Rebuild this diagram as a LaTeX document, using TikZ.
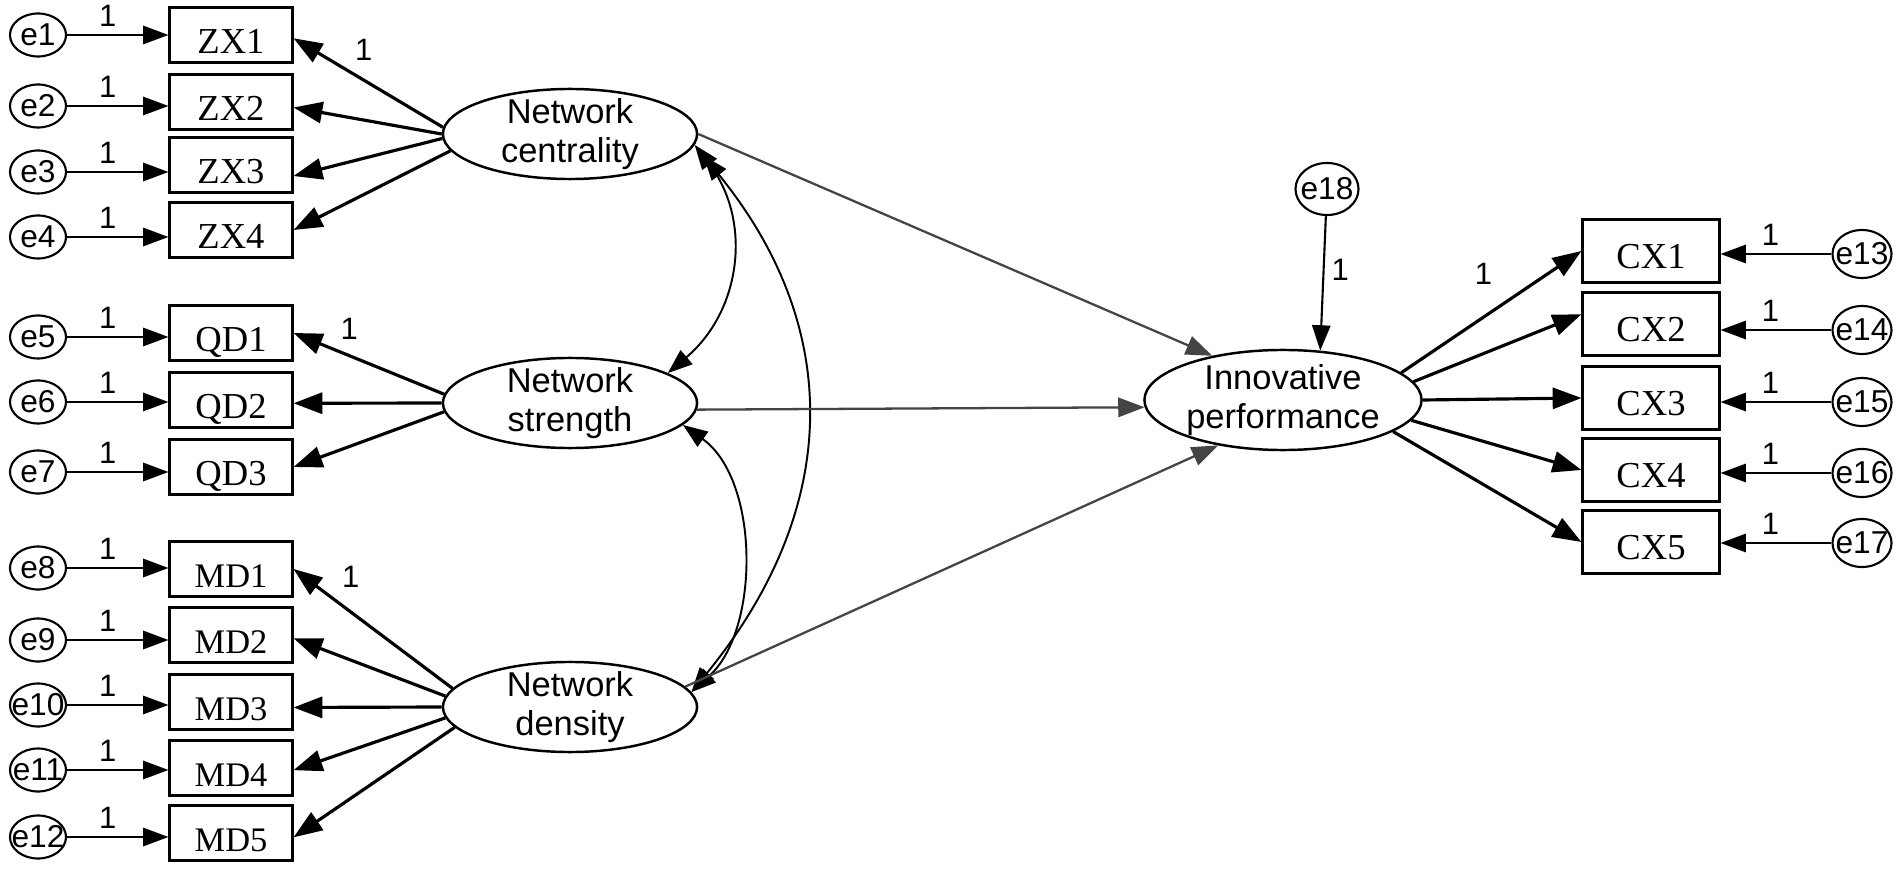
\documentclass[tikz,border=0pt]{standalone}
\usepackage{fontspec}
\setmainfont{Liberation Serif}
\setsansfont{Liberation Sans}
\usepackage{tikz}
\usetikzlibrary{shapes.geometric, arrows.meta}
\definecolor{pathgray}{HTML}{444444}

\newcommand{\etxt}[1]{\makebox[0pt]{#1}}

\tikzset{
  obsbox/.style={draw, line width=0.85pt, minimum width=1.22cm, minimum height=0.55cm, inner sep=0pt, text height=0.378cm, text depth=0pt, font=\fontsize{10.4}{10.4}\selectfont},
  mdbox/.style={obsbox, font=\fontsize{9.8}{9.8}\selectfont, text height=0.37cm},
  cxbox/.style={obsbox, minimum width=1.36cm, minimum height=0.62cm, text height=0.34cm},
  errnode/.style={ellipse, draw, line width=0.6pt, minimum width=0.56cm, minimum height=0.43cm, inner sep=0pt, font=\fontsize{9}{9}\selectfont\sffamily},
  errright/.style={errnode, minimum width=0.59cm, minimum height=0.48cm},
  latent/.style={ellipse, draw, line width=0.7pt, minimum width=2.54cm, minimum height=0.9cm, inner xsep=0pt, inner ysep=-2pt, align=center, font=\fontsize{9.8}{11}\selectfont\sffamily},
  errarrow/.style={-{Triangle[length=7.2pt, width=5.2pt]}, line width=0.6pt},
  loadarrow/.style={-{Triangle[length=8.2pt, width=6pt]}, line width=0.9pt},
  patharrow/.style={-{Triangle[length=7.5pt, width=5.5pt]}, pathgray, line width=0.65pt},
  covarrow/.style={{Triangle[length=7pt, width=5.2pt]}-{Triangle[length=7pt, width=5.2pt]}, line width=0.55pt},
  wlabel/.style={font=\fontsize{8.8}{8.8}\selectfont\sffamily, inner sep=2pt}
}

\begin{document}
\begin{tikzpicture}[x=0.01cm, y=-0.01cm]
  \useasboundingbox (0,0) rectangle (1902,870);

  % Error terms, left column
  \node[errnode] (e1) at (38,35) {\etxt{e1}};
  \node[errnode] (e2) at (38,106) {\etxt{e2}};
  \node[errnode] (e3) at (38,172) {\etxt{e3}};
  \node[errnode] (e4) at (38,237) {\etxt{e4}};
  \node[errnode] (e5) at (38,337) {\etxt{e5}};
  \node[errnode] (e6) at (38,402) {\etxt{e6}};
  \node[errnode] (e7) at (38,472) {\etxt{e7}};
  \node[errnode] (e8) at (38,568) {\etxt{e8}};
  \node[errnode] (e9) at (38,640) {\etxt{e9}};
  \node[errnode] (e10) at (38,705) {\etxt{e10}};
  \node[errnode] (e11) at (38,770) {\etxt{e11}};
  \node[errnode] (e12) at (38,837) {\etxt{e12}};

  % Indicators of the three network constructs
  \node[obsbox] (ZX1) at (231,35) {ZX1};
  \node[obsbox] (ZX2) at (231,102) {ZX2};
  \node[obsbox] (ZX3) at (231,165) {ZX3};
  \node[obsbox] (ZX4) at (231,230) {ZX4};
  \node[obsbox] (QD1) at (231,333) {QD1};
  \node[obsbox] (QD2) at (231,400) {QD2};
  \node[obsbox] (QD3) at (231,467) {QD3};
  \node[mdbox] (MD1) at (231,569) {MD1};
  \node[mdbox] (MD2) at (231,635) {MD2};
  \node[mdbox] (MD3) at (231,702) {MD3};
  \node[mdbox] (MD4) at (231,768) {MD4};
  \node[mdbox] (MD5) at (231,833) {MD5};

  % Latent variables
  \node[latent] (NC) at (570,134) {Network\\centrality};
  \node[latent] (NS) at (570,403) {Network\\strength};
  \node[latent] (ND) at (570,707) {Network\\density};
  \node[latent, minimum width=2.77cm, minimum height=1.0cm] (IP) at (1283,400) {Innovative\\performance};
  \node[errnode, minimum width=0.63cm, minimum height=0.52cm] (e18) at (1327,189) {\etxt{e18}};

  % Indicators of innovative performance and their errors
  \node[cxbox] (CX1) at (1651,251) {CX1};
  \node[cxbox] (CX2) at (1651,324) {CX2};
  \node[cxbox] (CX3) at (1651,398) {CX3};
  \node[cxbox] (CX4) at (1651,470) {CX4};
  \node[cxbox] (CX5) at (1651,542) {CX5};
  \node[errright] (e13) at (1862,254) {\etxt{e13}};
  \node[errright] (e14) at (1862,330) {\etxt{e14}};
  \node[errright] (e15) at (1862,402) {\etxt{e15}};
  \node[errright] (e16) at (1862,473) {\etxt{e16}};
  \node[errright] (e17) at (1862,543) {\etxt{e17}};

  % Error paths, left
  \draw[errarrow] (e1) -- node[wlabel, above, pos=0.4] {1} (e1 -| ZX1.west);
  \draw[errarrow] (e2) -- node[wlabel, above, pos=0.4] {1} (e2 -| ZX2.west);
  \draw[errarrow] (e3) -- node[wlabel, above, pos=0.4] {1} (e3 -| ZX3.west);
  \draw[errarrow] (e4) -- node[wlabel, above, pos=0.4] {1} (e4 -| ZX4.west);
  \draw[errarrow] (e5) -- node[wlabel, above, pos=0.4] {1} (e5 -| QD1.west);
  \draw[errarrow] (e6) -- node[wlabel, above, pos=0.4] {1} (e6 -| QD2.west);
  \draw[errarrow] (e7) -- node[wlabel, above, pos=0.4] {1} (e7 -| QD3.west);
  \draw[errarrow] (e8) -- node[wlabel, above, pos=0.4] {1} (e8 -| MD1.west);
  \draw[errarrow] (e9) -- node[wlabel, above, pos=0.4] {1} (e9 -| MD2.west);
  \draw[errarrow] (e10) -- node[wlabel, above, pos=0.4] {1} (e10 -| MD3.west);
  \draw[errarrow] (e11) -- node[wlabel, above, pos=0.4] {1} (e11 -| MD4.west);
  \draw[errarrow] (e12) -- node[wlabel, above, pos=0.4] {1} (e12 -| MD5.west);

  % Loadings, left
  \draw[loadarrow] (NC.177) -- node[wlabel, above=3pt, pos=0.53] {1} (ZX1.-3);
  \draw[loadarrow] (NC.180) -- (ZX2.-5);
  \draw[loadarrow] (NC.182) -- (ZX3.-10);
  \draw[loadarrow] (NC.188) -- (ZX4.east);
  \draw[loadarrow] (NS.176) -- node[wlabel, above=2pt, pos=0.63] {1} (QD1.east);
  \draw[loadarrow] (NS.180) -- (QD2.-3);
  \draw[loadarrow] (NS.184) -- (QD3.east);
  \draw[loadarrow] (ND.171) -- node[wlabel, above=4.4pt, pos=0.64] {1} (MD1.east);
  \draw[loadarrow] (ND.175) -- (MD2.-3);
  \draw[loadarrow] (ND.180) -- (MD3.-5);
  \draw[loadarrow] (ND.185) -- (MD4.-2);
  \draw[loadarrow] (ND.190) -- (MD5.-4);

  % Covariances between the network constructs
  \draw[covarrow] (NC.-5) .. controls (752,220) and (742,310) .. (NS.17);
  \draw[covarrow, shorten <=0.14cm] (NC.-5) .. controls (845,330) and (840,510) .. (ND.7);
  \draw[covarrow] (NS.-11) .. controls (760,480) and (760,630) .. (ND.7);

  % Structural paths
  \draw[patharrow] (NC.east) -- (IP.148);
  \draw[patharrow] (NS.-3) -- (IP.183);
  \draw[patharrow] (ND.10) -- (IP.215);
  \draw[errarrow] (e18) -- node[wlabel, right, pos=0.4] {1} (IP.53);

  % Loadings and errors, right
  \draw[loadarrow] (IP.13) -- node[wlabel, above=6.9pt, pos=0.456] {1} (CX1.west);
  \draw[loadarrow] (IP.8) -- (CX2.172);
  \draw[loadarrow] (IP.0) -- (CX3.west);
  \draw[loadarrow] (IP.-9) -- (CX4.west);
  \draw[loadarrow] (IP.-16) -- (CX5.west);
  \draw[errarrow] (e13) -- node[wlabel, above, pos=0.55] {1} (e13 -| CX1.east);
  \draw[errarrow] (e14) -- node[wlabel, above, pos=0.55] {1} (e14 -| CX2.east);
  \draw[errarrow] (e15) -- node[wlabel, above, pos=0.55] {1} (e15 -| CX3.east);
  \draw[errarrow] (e16) -- node[wlabel, above, pos=0.55] {1} (e16 -| CX4.east);
  \draw[errarrow] (e17) -- node[wlabel, above, pos=0.55] {1} (e17 -| CX5.east);
\end{tikzpicture}
\end{document}
